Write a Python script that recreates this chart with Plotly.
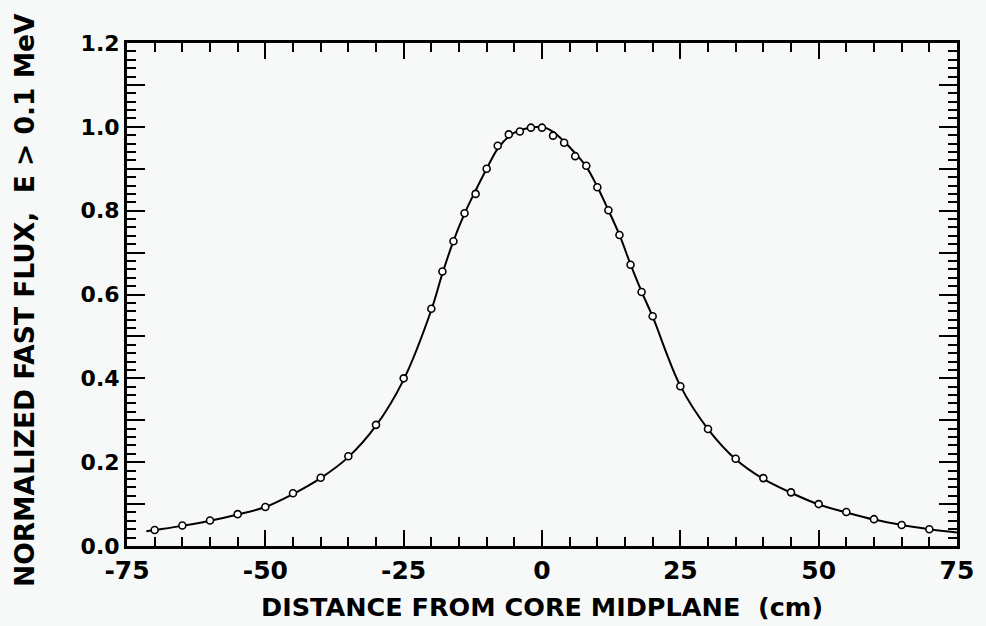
import plotly.graph_objects as go

# Measured points (open circles)
x_pts = [-70, -65, -60, -55, -50, -45, -40, -35, -30, -25, -20, -18, -16, -14, -12, -10,
         -8, -6, -4, -2, 0, 2, 4, 6, 8, 10, 12, 14, 16, 18, 20, 25, 30, 35, 40, 45, 50,
         55, 60, 65, 70]
y_pts = [0.038, 0.049, 0.061, 0.076, 0.093, 0.126, 0.163, 0.214, 0.289, 0.400, 0.566,
         0.655, 0.727, 0.794, 0.840, 0.900, 0.955, 0.982, 0.989, 0.998, 0.998, 0.979,
         0.962, 0.930, 0.907, 0.856, 0.801, 0.742, 0.671, 0.606, 0.548, 0.381, 0.279,
         0.208, 0.162, 0.128, 0.100, 0.081, 0.064, 0.050, 0.040]

# Calculated curve (solid line)
x_curve = [-71.5, -70, -65, -60, -55, -50, -45, -40, -35, -30, -25, -20, -18, -16, -14,
           -12, -10, -8, -6, -4, -2, 0, 2, 4, 6, 8, 10, 12, 14, 16, 18, 20, 25, 30, 35,
           40, 45, 50, 55, 60, 65, 70, 75]
y_curve = [0.035, 0.038, 0.048, 0.060, 0.075, 0.093, 0.124, 0.162, 0.212, 0.287, 0.397,
           0.563, 0.650, 0.728, 0.793, 0.848, 0.900, 0.948, 0.977, 0.992, 0.998, 1.000,
           0.988, 0.965, 0.937, 0.905, 0.857, 0.801, 0.742, 0.672, 0.607, 0.547, 0.382,
           0.279, 0.207, 0.160, 0.127, 0.099, 0.080, 0.063, 0.050, 0.040, 0.032]

x_ticks = [-75, -50, -25, 0, 25, 50, 75]
x_ticktext = ["-75", "-50", "-25", "0", "25", "50", "75"]
y_ticks = [0.0, 0.1, 0.2, 0.3, 0.4, 0.5, 0.6, 0.7, 0.8, 0.9, 1.0, 1.1, 1.2]
y_ticktext = ["0.0", "", "0.2", "", "0.4", "", "0.6", "", "0.8", "", "1.0", "", "1.2"]

x_title = "DISTANCE FROM CORE MIDPLANE\u00a0 (cm)"
y_title = "NORMALIZED FAST FLUX,\u00a0 E > 0.1 MeV"

FONT = "DejaVu Sans, Verdana, sans-serif"
BG = "#f7f8f8"

fig = go.Figure()
fig.add_trace(go.Scatter(
    x=x_curve, y=y_curve, mode="lines",
    line=dict(color="black", width=2, shape="spline", smoothing=1.0),
    showlegend=False, hoverinfo="skip"))
fig.add_trace(go.Scatter(
    x=x_pts, y=y_pts, mode="markers",
    marker=dict(symbol="circle", size=7, color="white",
                line=dict(color="black", width=1.6)),
    showlegend=False))

fig.update_layout(
    width=986, height=626,
    margin=dict(l=127, r=21, t=43, b=80),
    paper_bgcolor=BG, plot_bgcolor=BG,
    font=dict(family=FONT, color="black", weight="bold"),
    xaxis=dict(
        range=[-75, 75], tickmode="array", tickvals=x_ticks, ticktext=x_ticktext,
        ticks="inside", ticklen=16, tickwidth=2, tickcolor="black",
        minor=dict(dtick=5, tick0=0, ticks="inside", ticklen=9, tickwidth=2, tickcolor="black"),
        showline=True, linecolor="black", linewidth=3, mirror="ticks",
        showgrid=False, zeroline=False,
        tickfont=dict(family=FONT, size=25, color="black", weight="bold"),
    ),
    yaxis=dict(
        range=[0, 1.2], tickmode="array", tickvals=y_ticks, ticktext=y_ticktext,
        ticks="inside", ticklen=18, tickwidth=2, tickcolor="black",
        minor=dict(dtick=0.02, tick0=0, ticks="inside", ticklen=9, tickwidth=2, tickcolor="black"),
        showline=True, linecolor="black", linewidth=3, mirror="ticks",
        showgrid=False, zeroline=False,
        tickfont=dict(family=FONT, size=22, color="black", weight="bold"),
    ),
    annotations=[
        dict(text=x_title, xref="paper", yref="paper", x=0.5, y=-0.1213,
             xanchor="center", yanchor="middle", showarrow=False,
             font=dict(family=FONT, size=25.5, color="black", weight="bold")),
        dict(text=y_title, xref="paper", yref="paper", x=-0.1241, y=0.489,
             xanchor="center", yanchor="middle", showarrow=False, textangle=-90,
             font=dict(family=FONT, size=26.5, color="black", weight="bold")),
    ],
)

fig.write_html(
    "out.html",
    config={"displayModeBar": False},
    post_script="document.body.style.margin='0';document.body.style.overflow='hidden';"
                "document.body.style.background='#f7f8f8';",
)
